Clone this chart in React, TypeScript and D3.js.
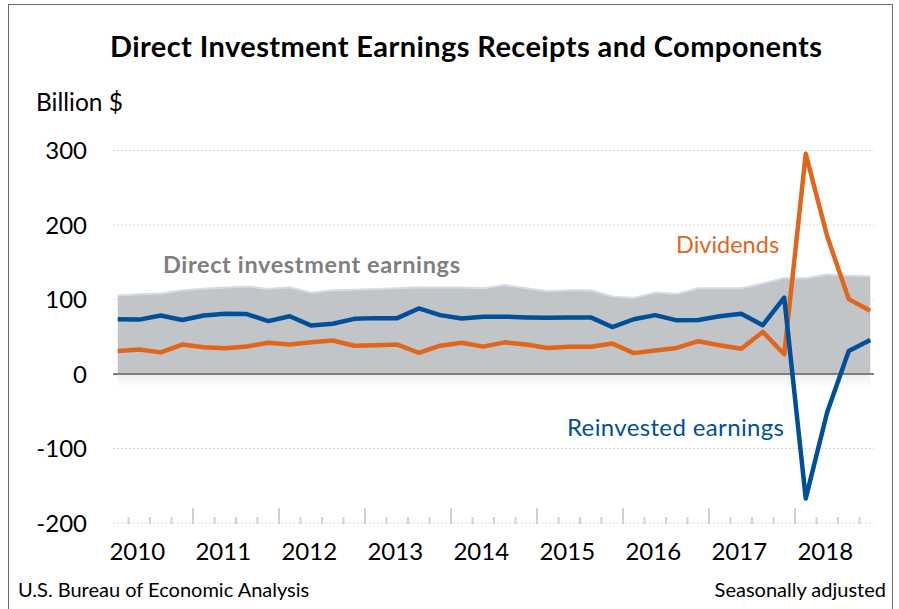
import React from "react";
import * as d3 from "d3";

const years = ["2010", "2011", "2012", "2013", "2014", "2015", "2016", "2017", "2018"];
const quarterNames = ["Q1", "Q2", "Q3", "Q4"];
const categories = years.flatMap((y) => quarterNames.map((q) => `${y} ${q}`));

const reinvested = [
  73.5, 73, 78.5, 72.5, 78.5, 81, 80.5, 71, 77.5, 65, 67.5, 74,
  75, 75, 88, 79, 74.5, 77, 77, 76, 75.5, 76, 76, 63,
  73.5, 79, 72, 72.5, 77.5, 81, 65.5, 102.5, -167, -51, 31, 45.5,
];
const dividends = [
  31, 33, 29, 39.5, 36, 34.5, 37, 42, 39.5, 42.5, 45, 38,
  38.5, 39.5, 28.5, 38, 42, 36.7, 42.5, 39.5, 35, 36.5, 36.5, 41,
  28, 31.5, 35, 44, 38.5, 34, 56.5, 26.5, 295.5, 184.5, 100.5, 85,
];
const totalEarnings = [
  105.5, 107, 108, 112.5, 114.5, 116, 117.5, 114, 116.5, 109, 112.5, 113,
  114, 115, 116.5, 116, 116, 115, 119.5, 115, 111, 112.5, 112.5, 104,
  102, 109.5, 107.5, 115, 115, 115, 121.5, 129, 128.5, 133.5, 132, 131,
];
const yTicks = [300, 200, 100, 0, -100, -200];

const FONT = "Lato, 'Open Sans', sans-serif";
const ORANGE = "#E0661C";
const BLUE = "#004F9B";

export default function App() {
  const W = 899;
  const H = 609;
  const x = d3.scaleBand<number>().domain(d3.range(categories.length)).range([107, 881]).padding(0);
  const cx = (i: number) => (x(i) as number) + x.bandwidth() / 2;
  const y = d3.scaleLinear().domain([-200, 300]).range([523, 150.5]);
  const plotLeft = 113;
  const plotRight = 874;

  const area = d3
    .area<number>()
    .x((_, i) => cx(i))
    .y0(y(0))
    .y1((d) => y(d));
  const line = d3
    .line<number>()
    .x((_, i) => cx(i))
    .y((d) => y(d));

  const boundaries = d3.range(1, categories.length);

  return (
    <svg
      width={W}
      height={H}
      style={{ position: "absolute", left: 0, top: 0, background: "#fff" }}
      fontFamily={FONT}
    >
      <defs>
        <linearGradient id="shadow" x1="0" y1="0" x2="0" y2="1">
          <stop offset="0" stopColor="#eeeeee" />
          <stop offset="1" stopColor="#ffffff" />
        </linearGradient>
      </defs>
      <rect x={0} y={0} width={W} height={H} fill="#fff" />
      <rect x={8.5} y={4.5} width={884} height={620} fill="none" stroke="#6a6a6a" strokeWidth={1} />

      <text x={466} y={57} textAnchor="middle" fontSize={29} fontWeight={700} fill="#000" textLength={712} lengthAdjust="spacing">
        Direct Investment Earnings Receipts and Components
      </text>
      <text x={36} y={111} fontSize={24.5} fill="#000">
        Billion $
      </text>

      {/* gridlines */}
      {yTicks
        .filter((t) => t !== 0)
        .map((t) => (
          <line
            key={t}
            x1={plotLeft}
            x2={plotRight}
            y1={y(t)}
            y2={y(t)}
            stroke="#d9d9d9"
            strokeWidth={1}
            strokeDasharray="2,2"
          />
        ))}

      {/* y labels */}
      {yTicks.map((t) => (
        <text key={t} x={87} y={y(t) + 8.5} textAnchor="end" fontSize={24} fill="#000">
          {t}
        </text>
      ))}

      {/* shadow under zero */}
      <rect x={cx(0)} y={y(0)} width={cx(categories.length - 1) - cx(0)} height={14} fill="url(#shadow)" />

      {/* area */}
      <path d={area(totalEarnings) as string} fill="#C2C5C7" />
      <path d={line(totalEarnings) as string} fill="none" stroke="#D5DCE6" strokeWidth={2} />

      {/* zero line */}
      <line x1={plotLeft} x2={plotRight} y1={y(0)} y2={y(0)} stroke="#7f7f7f" strokeWidth={2} />

      {/* x axis ticks */}
      {boundaries.map((b) => {
        const bx = x(b) as number;
        const major = b % 4 === 0;
        return (
          <line
            key={b}
            x1={bx}
            x2={bx}
            y1={y(-200) + 1}
            y2={y(-200) - (major ? 15 : 6)}
            stroke="#d0d0d0"
            strokeWidth={2}
          />
        );
      })}

      {/* x labels */}
      {years.map((yr, k) => (
        <text key={yr} x={cx(k * 4 + 1) - 2} y={560} textAnchor="middle" fontSize={24} fill="#000">
          {yr}
        </text>
      ))}

      {/* lines */}
      <path d={line(dividends) as string} fill="none" stroke={ORANGE} strokeWidth={4.5} strokeLinejoin="round" />
      <path d={line(reinvested) as string} fill="none" stroke={BLUE} strokeWidth={4.5} strokeLinejoin="round" />

      {/* annotations */}
      <text x={163} y={273} fontSize={23.5} fontWeight={700} fill="#7F7F7F" textLength={297} lengthAdjust="spacing">
        Direct investment earnings
      </text>
      <text x={676} y={253} fontSize={23.5} fill={ORANGE}>
        Dividends
      </text>
      <text x={567} y={436} fontSize={24} fill={BLUE} textLength={217} lengthAdjust="spacing">
        Reinvested earnings
      </text>

      {/* footer */}
      <text x={18} y={597} fontSize={20} fill="#000">
        U.S. Bureau of Economic Analysis
      </text>
      <text x={886} y={597} textAnchor="end" fontSize={20} fill="#000">
        Seasonally adjusted
      </text>
    </svg>
  );
}
